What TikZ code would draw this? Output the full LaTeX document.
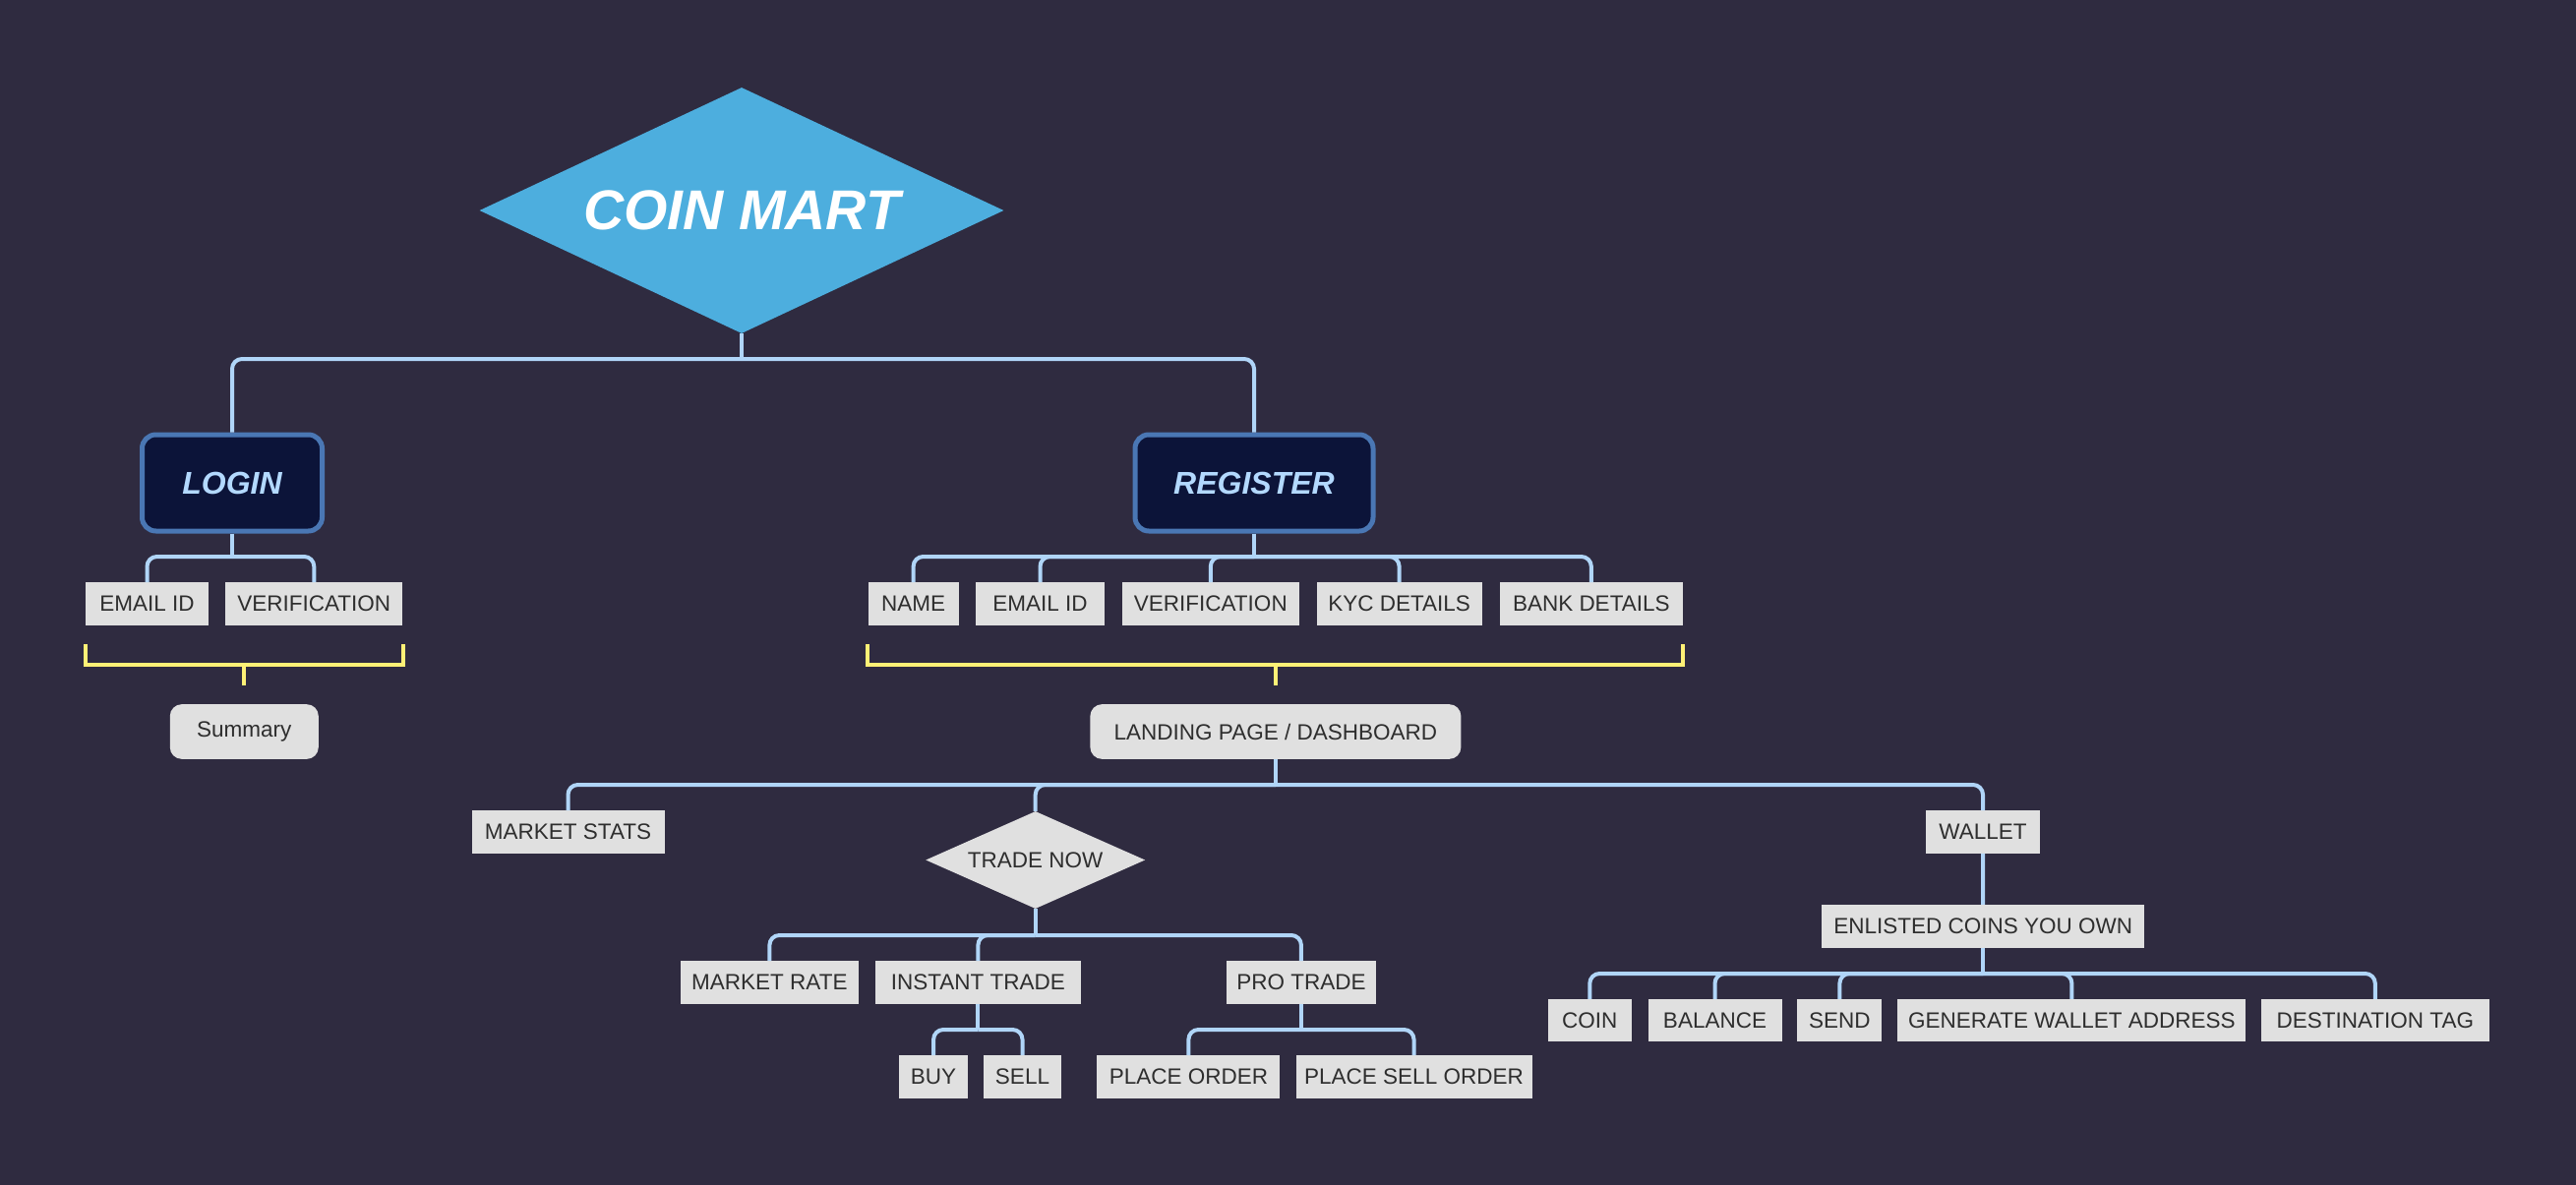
\documentclass[tikz,border=0pt]{standalone}
\usepackage{fontspec}
\setmainfont{Liberation Sans}
\usetikzlibrary{shapes.geometric}
\definecolor{bgcol}{HTML}{2F2B40}
\definecolor{coinblue}{HTML}{4DAEDE}
\definecolor{mainfill}{HTML}{0C1439}
\definecolor{mainborder}{HTML}{4A77B4}
\definecolor{mainblue}{HTML}{B3D9FF}
\definecolor{linkblue}{HTML}{B0D5F8}
\definecolor{braceyellow}{HTML}{FFF176}
\definecolor{boxgray}{HTML}{E0E0E0}
\definecolor{boxtext}{HTML}{2E2E2E}

\begin{document}
\begin{tikzpicture}[x=1pt,y=-1pt]
\tikzset{
  BoxStyle/.style={fill=boxgray,text=boxtext,font=\fontsize{22.5}{27}\selectfont,minimum height=43.4pt,inner sep=4pt},
  PillStyle/.style={BoxStyle,rounded corners=12pt,minimum height=55.7pt},
  MainStyle/.style={draw=mainborder,line width=5pt,fill=mainfill,text=mainblue,rounded corners=14pt,font=\fontsize{32}{38}\selectfont\bfseries\itshape,minimum height=98pt},
  DecisionStyle/.style={diamond,aspect=2.25,inner sep=0pt,fill=boxgray,text=boxtext,font=\fontsize{22.5}{27}\selectfont,minimum width=223pt,minimum height=99pt}
}
\fill[bgcol] (0,0) rectangle (2619,1205);
\useasboundingbox (0,0) rectangle (2619,1205);
\node[diamond,aspect=2.13,inner sep=0pt,fill=coinblue,text=white,font=\fontsize{57}{66}\selectfont\bfseries\itshape,minimum width=533pt,minimum height=250pt] (coinmart) at (754,214) {COIN MART};
\node[MainStyle,minimum width=183pt] (login) at (236,491) {LOGIN};
\node[MainStyle,minimum width=242pt] (register) at (1275,491) {REGISTER};
\node[BoxStyle,minimum width=124.4pt] (lemail) at (149.5,614) {EMAIL ID};
\node[BoxStyle,minimum width=180pt] (lverif) at (319.3,614) {VERIFICATION};
\node[PillStyle,minimum width=151pt] (summary) at (248.3,744) {Summary};
\node[BoxStyle,minimum width=92pt] (name) at (928.6,614) {NAME};
\node[BoxStyle,minimum width=130.3pt] (remail) at (1057.5,614) {EMAIL ID};
\node[BoxStyle,minimum width=179.7pt] (rverif) at (1230.8,614) {VERIFICATION};
\node[BoxStyle,minimum width=168.2pt] (kyc) at (1422.6,614) {KYC DETAILS};
\node[BoxStyle,minimum width=186.6pt] (bank) at (1617.8,614) {BANK DETAILS};
\node[PillStyle,minimum width=377pt] (landing) at (1296.9,744) {LANDING PAGE / DASHBOARD};
\node[BoxStyle,minimum width=196pt] (mstats) at (577.5,846) {MARKET STATS};
\node[DecisionStyle] (trade) at (1052.7,874.5) {TRADE NOW};
\node[BoxStyle,minimum width=116pt] (wallet) at (2016,846) {WALLET};
\node[BoxStyle,minimum width=181.7pt] (mrate) at (782.4,999) {MARKET RATE};
\node[BoxStyle,minimum width=209.4pt] (instant) at (994.4,999) {INSTANT TRADE};
\node[BoxStyle,minimum width=151.5pt] (pro) at (1322.9,999) {PRO TRADE};
\node[BoxStyle,minimum width=69.6pt] (buy) at (949.1,1095) {BUY};
\node[BoxStyle,minimum width=78.2pt] (sell) at (1039.5,1095) {SELL};
\node[BoxStyle,minimum width=186pt] (porder) at (1208.4,1095) {PLACE ORDER};
\node[BoxStyle,minimum width=240pt] (psell) at (1437.5,1095) {PLACE SELL ORDER};
\node[BoxStyle,minimum width=327.8pt] (enlisted) at (2016.2,941.8) {ENLISTED COINS YOU OWN};
\node[BoxStyle,minimum width=85.5pt] (coin) at (1616.3,1037.7) {COIN};
\node[BoxStyle,minimum width=136pt] (balance) at (1743.5,1037.7) {BALANCE};
\node[BoxStyle,minimum width=86pt] (send) at (1870.4,1037.7) {SEND};
\node[BoxStyle,minimum width=354pt] (generate) at (2106.4,1037.7) {GENERATE WALLET ADDRESS};
\node[BoxStyle,minimum width=232pt] (desttag) at (2414.8,1037.7) {DESTINATION TAG};
\tikzset{LinkStyle/.style={draw=linkblue,line width=4pt,rounded corners=10pt},
  BraceStyle/.style={draw=braceyellow,line width=4pt}}
\coordinate (jtop) at (754,365);
\coordinate (jlogin) at (236,566);
\coordinate (jreg) at (1275,566);
\coordinate (jland) at (1296.9,798);
\coordinate (jtrade) at (1052.7,951);
\coordinate (jinst) at (994.4,1047);
\coordinate (jpro) at (1322.9,1047);
\coordinate (jcoins) at (2016.2,990);
\draw[LinkStyle] (coinmart.south) -- (jtop);
\draw[LinkStyle] (jtop) -| (login.north);
\draw[LinkStyle] (jtop) -| (register.north);
\draw[LinkStyle] (login.south) -- (jlogin);
\draw[LinkStyle] (jlogin) -| (lemail.north);
\draw[LinkStyle] (jlogin) -| (lverif.north);
\draw[LinkStyle] (register.south) -- (jreg);
\draw[LinkStyle] (jreg) -| (name.north);
\draw[LinkStyle] (jreg) -| (remail.north);
\draw[LinkStyle] (jreg) -| (rverif.north);
\draw[LinkStyle] (jreg) -| (kyc.north);
\draw[LinkStyle] (jreg) -| (bank.north);
\draw[LinkStyle] (landing.south) -- (jland);
\draw[LinkStyle] (jland) -| (mstats.north);
\draw[LinkStyle] (jland) -| (trade.north);
\draw[LinkStyle] (jland) -| (wallet.north);
\draw[LinkStyle] (trade.south) -- (jtrade);
\draw[LinkStyle] (jtrade) -| (mrate.north);
\draw[LinkStyle] (jtrade) -| (instant.north);
\draw[LinkStyle] (jtrade) -| (pro.north);
\draw[LinkStyle] (instant.south) -- (jinst);
\draw[LinkStyle] (jinst) -| (buy.north);
\draw[LinkStyle] (jinst) -| (sell.north);
\draw[LinkStyle] (pro.south) -- (jpro);
\draw[LinkStyle] (jpro) -| (porder.north);
\draw[LinkStyle] (jpro) -| (psell.north);
\draw[LinkStyle] (wallet.south) -- (enlisted.north);
\draw[LinkStyle] (enlisted.south) -- (jcoins);
\draw[LinkStyle] (jcoins) -| (coin.north);
\draw[LinkStyle] (jcoins) -| (balance.north);
\draw[LinkStyle] (jcoins) -| (send.north);
\draw[LinkStyle] (jcoins) -| (generate.north);
\draw[LinkStyle] (jcoins) -| (desttag.north);
\draw[BraceStyle] ([yshift=-19pt]lemail.south west) -- ++(0,21) -| ([yshift=-19pt]lverif.south east);
\draw[BraceStyle] (summary.north) ++(0,-19) -- ++(0,-21);
\draw[BraceStyle] ([yshift=-19pt]name.south west) -- ++(0,21) -| ([yshift=-19pt]bank.south east);
\draw[BraceStyle] (landing.north) ++(0,-19) -- ++(0,-21);
\end{tikzpicture}
\end{document}
